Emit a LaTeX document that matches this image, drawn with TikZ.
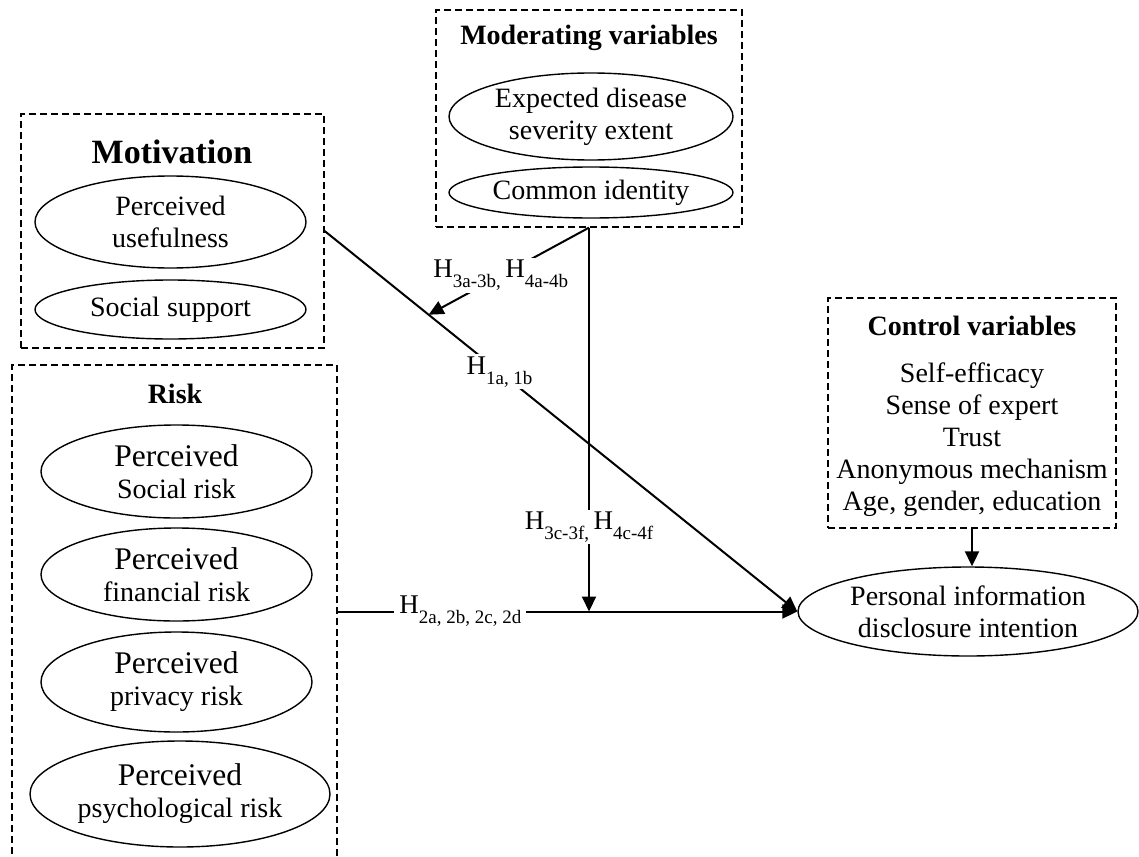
\documentclass[tikz,border=0pt]{standalone}
\usepackage{fontspec}
\setmainfont{Liberation Serif}
\usetikzlibrary{shapes.geometric,arrows.meta,calc}
\newcommand{\fsz}[2]{\fontsize{#1}{#2}\selectfont}
\newcommand{\Hs}[1]{H\raisebox{-10pt}{\fontsize{19}{19}\selectfont #1}}
\tikzset{
  dbox/.style={draw, dash pattern=on 7pt off 4pt, line width=1.3pt, inner sep=0pt},
  ell/.style={draw, ellipse, line width=1.4pt, inner sep=0pt, align=center, font=\fsz{28}{32}},
  ttl/.style={anchor=base, inner sep=0pt, font=\fsz{28}{32}\bfseries},
  conn/.style={line width=2pt},
  arr/.style={conn, -{Triangle[length=15pt,width=14pt]}},
  lab/.style={fill=white, inner xsep=5pt, inner ysep=2pt, font=\fsz{27}{30}},
}
\begin{document}
\begin{tikzpicture}[x=1pt,y=-1pt]
\useasboundingbox (0,0) rectangle (1139,856);
\clip (0,0) rectangle (1139,856);

% Motivation
\node[dbox, minimum width=303pt, minimum height=234pt] (mot) at (172.5,231) {};
\node[ttl, font=\fsz{34}{38}\bfseries] (motT) at (172,163) {Motivation};
\node[ell, minimum width=271pt, minimum height=92pt] (pu) at (170.5,222) {Perceived\\usefulness};
\node[ell, minimum width=271pt, minimum height=59pt] (ss) at (170.5,309.5) {Social support};

% Moderating
\node[dbox, minimum width=306pt, minimum height=217pt] (mod) at (589,118.5) {};
\node[ttl] (modT) at (589,45) {Moderating variables};
\node[ell, minimum width=284pt, minimum height=87pt] (eds) at (591,116.5) {Expected disease\\severity extent};
\node[ell, minimum width=284pt, minimum height=51pt] (ci) at (591,192.5) {Common identity};

% Risk
\node[dbox, minimum width=325pt, minimum height=507pt] (risk) at (174.5,618.5) {};
\node[ttl] (riskT) at (175,403) {Risk};
\node[ell, minimum width=271pt, minimum height=93pt] (psr) at (176.5,471.5) {{\fsz{31.5}{32}Perceived}\\Social risk};
\node[ell, minimum width=271pt, minimum height=93pt] (pfr) at (176.5,574.5) {{\fsz{31.5}{32}Perceived}\\financial risk};
\node[ell, minimum width=271pt, minimum height=100pt] (ppr) at (176.5,682) {{\fsz{31.5}{32}Perceived}\\privacy risk};
\node[ell, minimum width=300pt, minimum height=106pt] (psy) at (180,794) {{\fsz{31.5}{32}Perceived}\\psychological risk};

% Control
\node[dbox, minimum width=288pt, minimum height=230pt] (ctrl) at (972,413) {};
\node[ttl] (ctrlT) at (972,335) {Control variables};
\node[inner sep=0pt, align=center, font=\fsz{28}{32}] (ctrlL) at (972,440) {Self-efficacy\\Sense of expert\\Trust\\Anonymous mechanism\\Age, gender, education};

% Outcome
\node[ell, minimum width=340pt, minimum height=89pt] (pid) at (968,611.5) {Personal information\\disclosure intention};

% Connectors
\coordinate (j1) at ($(mot.east)!0.22!(pid.west)$);
\coordinate (j2) at (mod.south |- pid.west);
\draw[arr] (mot.east) -- node[lab, pos=0.37] (h1) {\Hs{1a, 1b}} (pid.west);
\draw[arr] (risk.east |- pid.west) -- node[lab, pos=0.267] (h2) {\Hs{2a, 2b, 2c, 2d}} (pid.west);
\draw[arr] (mod.south) -- node[lab, pos=0.78] (h3) {\Hs{3c-3f,}\,\Hs{4c-4f}} (j2);
\draw[arr] (mod.south) -- node[lab, pos=0.55] (h4) {\Hs{3a-3b,}\,\Hs{4a-4b}} (j1);
\draw[arr] (ctrl.south) -- (ctrl.south |- pid.north);
\end{tikzpicture}
\end{document}
